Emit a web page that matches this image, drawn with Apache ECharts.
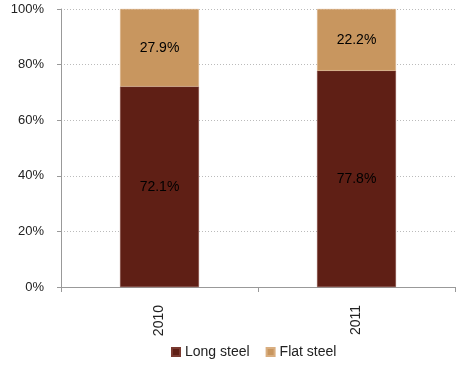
<!DOCTYPE html>
<html>
<head>
<meta charset="utf-8">
<script src="https://cdn.jsdelivr.net/npm/echarts@6/dist/echarts.min.js"></script>
<style>html,body{margin:0;padding:0;background:#fff}#c{width:457px;height:366px}</style>
</head>
<body>
<div id="c"></div>
<script>
// Share of steel output by product type
const years = ['2010', '2011'];
const longSteel = [72.1, 77.8];
const flatSteel = [27.9, 22.2];
const yTicks = [0, 20, 40, 60, 80, 100];

const font = 'Liberation Sans, DejaVu Sans, sans-serif';
const chart = echarts.init(document.getElementById('c'));
chart.setOption({
  animation: false,
  textStyle: { fontFamily: font },
  grid: { left: 61, right: 2, top: 9, bottom: 79, containLabel: false },
  legend: {
    bottom: 2, left: 166, itemWidth: 8, itemHeight: 8, itemGap: 16,
    icon: 'rect',
    textStyle: { fontSize: 14, color: '#222', fontFamily: font },
    data: ['Long steel', 'Flat steel']
  },
  xAxis: {
    type: 'category', data: years,
    axisLine: { lineStyle: { color: '#999' } },
    axisTick: { show: true, alignWithLabel: false, length: 5, lineStyle: { color: '#999' } },
    axisLabel: { rotate: 90, fontSize: 14, color: '#222', margin: 18, fontFamily: font }
  },
  yAxis: {
    type: 'value', min: 0, max: 100, interval: 20,
    axisLine: { show: true, lineStyle: { color: '#999' } },
    axisTick: { show: true, length: 4, lineStyle: { color: '#999' } },
    splitLine: { lineStyle: { color: '#bbb', type: [1, 2] } },
    axisLabel: {
      fontSize: 13, color: '#222', margin: 17, fontFamily: font,
      customValues: yTicks,
      formatter: v => v + '%'
    }
  },
  series: [
    {
      name: 'Long steel', type: 'bar', stack: 'total', barWidth: '40%',
      data: longSteel,
      itemStyle: { color: '#5f1f15', borderColor: '#7a3a30', borderWidth: 0.5 },
      label: { show: true, position: 'inside', color: '#000', fontSize: 14, fontFamily: font, formatter: p => p.value.toFixed(1) + '%' }
    },
    {
      name: 'Flat steel', type: 'bar', stack: 'total', barWidth: '40%',
      data: flatSteel,
      itemStyle: { color: '#c8965f', borderColor: '#d9ae80', borderWidth: 0.5 },
      label: { show: true, position: 'inside', color: '#000', fontSize: 14, fontFamily: font, formatter: p => p.value.toFixed(1) + '%' }
    }
  ]
});
</script>
</body>
</html>
